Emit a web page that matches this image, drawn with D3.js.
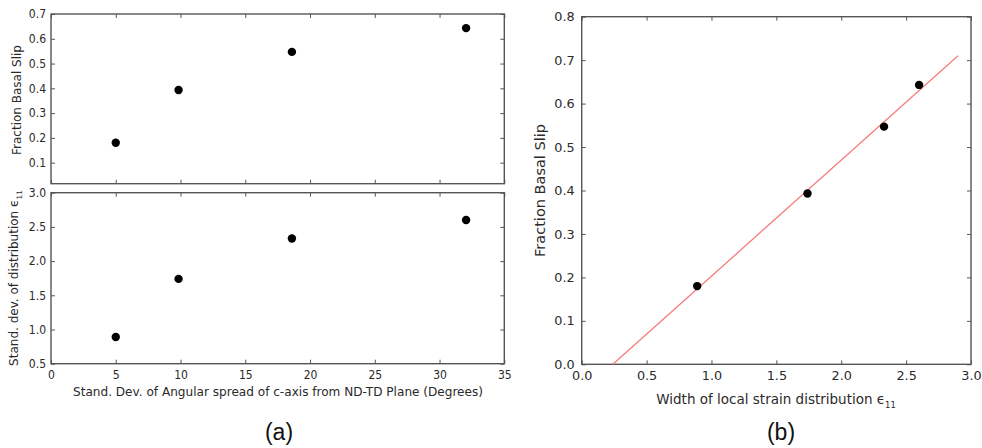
<!DOCTYPE html>
<html>
<head>
<meta charset="utf-8">
<script src="https://cdn.jsdelivr.net/npm/d3@7"></script>
<style>
  html, body { margin: 0; padding: 0; background: #fff; }
  svg { display: block; }
</style>
</head>
<body>
<svg id="chart" width="982" height="448"></svg>
<script>
// ---- data ----
const angularSpread = [5.0, 9.85, 18.6, 32.05];      // degrees
const basalFraction = [0.18, 0.393, 0.547, 0.643];
const strainStdDev  = [0.89, 1.74, 2.33, 2.60];
const strainWidth   = [0.89, 1.74, 2.33, 2.60];
const fitLineX = [0.24, 2.9];
const fitLineY = [0.0, 0.71];

const angTicks     = [0, 5, 10, 15, 20, 25, 30, 35];
const basalTicksA  = [0.1, 0.2, 0.3, 0.4, 0.5, 0.6, 0.7];
const strainTicksA = [0.5, 1.0, 1.5, 2.0, 2.5, 3.0];
const widthTicks   = [0.0, 0.5, 1.0, 1.5, 2.0, 2.5, 3.0];
const basalTicksB  = [0.0, 0.1, 0.2, 0.3, 0.4, 0.5, 0.6, 0.7, 0.8];

const svg = d3.select("#chart");
const FONT = "DejaVu Sans, sans-serif";
const FRAME = "#555";
const TXT = "#2a2a2a";
const TICK = 4;

function squeeze(sel, factor) {
  sel.each(function() {
    const len = this.getComputedTextLength();
    d3.select(this).attr("textLength", len * factor).attr("lengthAdjust", "spacingAndGlyphs");
  });
}

function frameAxes(g, x, y, xt, yt, opt) {
  const [x0, x1] = x.range();
  const [y0, y1] = y.range(); // y0 bottom, y1 top
  const ab = g.append("g").attr("transform", `translate(0,${y0})`)
    .call(d3.axisBottom(x).tickValues(xt).tickSizeInner(-TICK).tickSizeOuter(0)
      .tickPadding(7).tickFormat(opt.xLabels ? opt.xFmt : () => ""));
  const at = g.append("g").attr("transform", `translate(0,${y1})`)
    .call(d3.axisTop(x).tickValues(xt).tickSizeInner(-TICK).tickSizeOuter(0).tickFormat(() => ""));
  const al = g.append("g").attr("transform", `translate(${x0},0)`)
    .call(d3.axisLeft(y).tickValues(yt).tickSizeInner(-TICK).tickSizeOuter(0)
      .tickPadding(opt.yPad).tickFormat(opt.yFmt));
  const ar = g.append("g").attr("transform", `translate(${x1},0)`)
    .call(d3.axisRight(y).tickValues(yt).tickSizeInner(-TICK).tickSizeOuter(0).tickFormat(() => ""));
  [ab, at, al, ar].forEach(a => {
    a.select(".domain").remove();
    a.selectAll(".tick line").attr("stroke", FRAME).attr("stroke-width", 1);
    a.selectAll("text").attr("fill", TXT).attr("font-family", FONT).attr("font-size", opt.tickSize);
  });
  ab.selectAll(".tick text").attr("dy", "0.71em");
  if (opt.squeeze) { squeeze(ab.selectAll(".tick text"), opt.squeeze); squeeze(al.selectAll(".tick text"), opt.squeeze); }
  g.append("rect").attr("x", x0).attr("y", y1).attr("width", x1 - x0).attr("height", y0 - y1)
    .attr("fill", "none").attr("stroke", FRAME).attr("stroke-width", 1.4);
}

function dots(g, x, y, xs, ys) {
  g.selectAll(null).data(xs.map((v, i) => [v, ys[i]])).enter().append("circle")
    .attr("cx", d => x(d[0])).attr("cy", d => y(d[1])).attr("r", 4.2).attr("fill", "#000");
}

function epsLabel(t, main, size) {
  t.append("tspan").text(main + "\u03F5");
  t.append("tspan").attr("font-size", size * 0.62).attr("dy", size * 0.3).text("11");
}

// ---------- panel (a) top ----------
const xA = d3.scaleLinear().domain([0, 35]).range([51, 504.3]);
const yA1 = d3.scaleLinear().domain([0.015, 0.7]).range([183.7, 14]);
const gA1 = svg.append("g");
frameAxes(gA1, xA, yA1, angTicks, basalTicksA, {
  xLabels: false, yFmt: d3.format(".1f"), yPad: 5, tickSize: 12, squeeze: 0.9
});
dots(gA1, xA, yA1, angularSpread, basalFraction);
gA1.append("text").attr("transform", "translate(21,100) rotate(-90)")
  .attr("text-anchor", "middle").attr("font-family", FONT).attr("font-size", 12).attr("fill", TXT)
  .text("Fraction Basal Slip");

// ---------- panel (a) bottom ----------
const yA2 = d3.scaleLinear().domain([0.5, 3.0]).range([363.7, 192.7]);
const gA2 = svg.append("g");
frameAxes(gA2, xA, yA2, angTicks, strainTicksA, {
  xLabels: true, xFmt: d3.format("d"), yFmt: d3.format(".1f"), yPad: 5, tickSize: 12, squeeze: 0.9
});
dots(gA2, xA, yA2, angularSpread, strainStdDev);
const yl2 = gA2.append("text").attr("transform", "translate(18,278) rotate(-90)")
  .attr("text-anchor", "middle").attr("font-family", FONT).attr("font-size", 12).attr("fill", TXT);
epsLabel(yl2, "Stand. dev. of distribution ", 12);
gA2.append("text").attr("x", 278).attr("y", 396).attr("text-anchor", "middle")
  .attr("font-family", FONT).attr("font-size", 12).attr("fill", TXT)
  .attr("textLength", 410).attr("lengthAdjust", "spacingAndGlyphs")
  .text("Stand. Dev. of Angular spread of c-axis from ND-TD Plane (Degrees)");

// ---------- panel (b) ----------
const xB = d3.scaleLinear().domain([0, 3.0]).range([581.7, 971]);
const yB = d3.scaleLinear().domain([0, 0.8]).range([364.3, 16.7]);
const gB = svg.append("g");
frameAxes(gB, xB, yB, widthTicks, basalTicksB, {
  xLabels: true, xFmt: d3.format(".1f"), yFmt: d3.format(".1f"), yPad: 7, tickSize: 12.8
});
gB.append("path")
  .datum(fitLineX.map((v, i) => [v, fitLineY[i]]))
  .attr("d", d3.line().x(d => xB(d[0])).y(d => yB(d[1])))
  .attr("fill", "none").attr("stroke", "#f47c7c").attr("stroke-width", 1.3);
dots(gB, xB, yB, strainWidth, basalFraction);
gB.append("text").attr("transform", "translate(545,190.5) rotate(-90)")
  .attr("text-anchor", "middle").attr("font-family", FONT).attr("font-size", 14.5).attr("fill", TXT)
  .text("Fraction Basal Slip");
const xlB = gB.append("text").attr("x", 776).attr("y", 404).attr("text-anchor", "middle")
  .attr("font-family", FONT).attr("font-size", 13.5).attr("fill", TXT);
epsLabel(xlB, "Width of local strain distribution ", 13.5);

// ---------- sub-figure captions ----------
svg.append("text").attr("x", 279).attr("y", 440).attr("text-anchor", "middle")
  .attr("font-family", "Liberation Sans, Arial, sans-serif").attr("font-size", 23).attr("fill", "#111")
  .text("(a)");
svg.append("text").attr("x", 781).attr("y", 440).attr("text-anchor", "middle")
  .attr("font-family", "Liberation Sans, Arial, sans-serif").attr("font-size", 23).attr("fill", "#111")
  .text("(b)");
</script>
</body>
</html>
